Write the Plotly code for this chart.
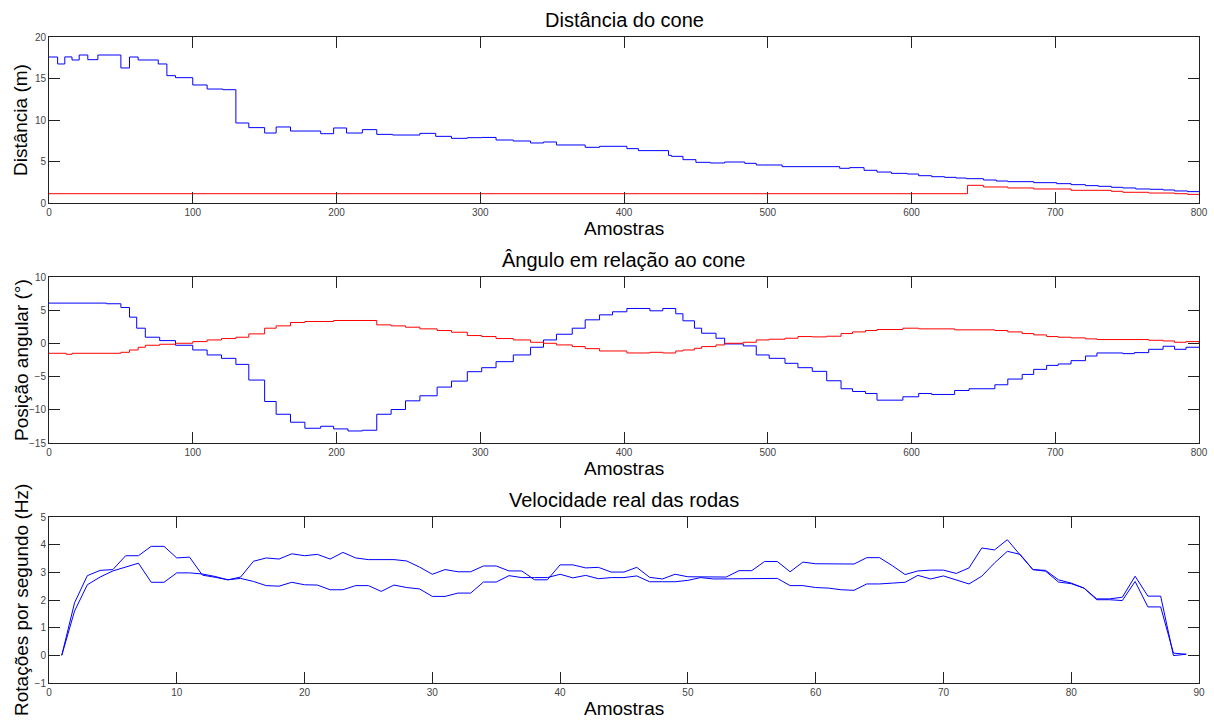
import plotly.graph_objects as go

# ---------------- Data ----------------
# Plot 1: Distância do cone (step series: start sample, level)
dist_blue_x = [0, 6, 11, 16, 21, 27, 34, 50, 56, 62, 76, 82, 88, 100, 110, 121, 130, 139, 150,
               158, 168, 189, 198, 207, 218, 228, 239, 258, 269, 280, 291, 301, 311, 323, 335,
               344, 353, 373, 383, 402, 410, 431, 433, 441, 450, 460, 470, 484, 492, 510, 550,
               557, 567, 576, 586, 597, 605, 614, 623, 631, 638, 650, 659, 667, 685, 701, 711,
               721, 730, 739, 747, 756, 766, 775, 783, 792, 800]
dist_blue_y = [17.59, 16.75, 17.6, 17.23, 17.83, 17.27, 17.83, 16.27, 17.59, 17.23, 16.75, 15.34,
               15.1, 14.22, 13.73, 13.65, 9.64, 9.08, 8.43, 9.16, 8.67, 8.35, 9.04, 8.43, 8.84,
               8.27, 8.19, 8.39, 8.03, 7.79, 7.87, 7.9, 7.59, 7.47, 7.23, 7.35, 6.99, 6.71, 6.83,
               6.55, 6.31, 5.74, 5.62, 5.22, 4.9, 4.82, 4.94, 4.78, 4.58, 4.38, 4.18, 4.26, 3.94,
               3.73, 3.57, 3.49, 3.29, 3.17, 3.09, 3.01, 2.93, 2.77, 2.65, 2.57, 2.45, 2.33, 2.21,
               2.09, 2.01, 1.89, 1.81, 1.69, 1.65, 1.57, 1.45, 1.37, 1.37]
dist_red_x = [0, 639, 650, 667, 685, 711, 739, 747, 765, 783, 792, 800]
dist_red_y = [1.12, 2.13, 1.93, 1.81, 1.69, 1.53, 1.41, 1.29, 1.2, 1.12, 1.04, 1.04]

# Plot 2: Ângulo em relação ao cone
ang_blue_x = [0, 40, 50, 56, 61, 67, 77, 88, 100, 110, 120, 130, 139, 150, 158, 168, 178, 189,
              198, 208, 218, 228, 238, 248, 258, 270, 280, 291, 301, 311, 323, 335, 344, 353,
              364, 373, 383, 392, 402, 418, 427, 436, 441, 449, 454, 464, 470, 483, 492, 501,
              512, 521, 531, 541, 551, 559, 568, 576, 594, 605, 614, 630, 640, 658, 667, 677,
              685, 694, 702, 711, 721, 729, 747, 755, 765, 775, 783, 791, 800]
ang_blue_y = [6.07, 5.97, 5.41, 3.95, 2.29, 0.93, 0.42, -0.28, -0.99, -1.74, -2.25, -3.16, -5.52,
              -8.75, -10.67, -11.87, -12.78, -12.48, -12.88, -13.19, -13.08, -10.67, -9.96, -8.65,
              -7.89, -6.58, -5.68, -4.26, -3.66, -2.75, -1.74, -0.58, 0.52, 1.38, 2.29, 3.55,
              4.3, 4.76, 5.26, 4.91, 5.26, 4.46, 3.4, 2.29, 1.53, 0.78, -0.08, -0.38, -1.74,
              -2.25, -3.0, -3.66, -4.21, -5.63, -6.83, -7.24, -7.54, -8.55, -8.04, -7.54, -7.69,
              -7.09, -6.83, -6.23, -5.37, -4.67, -3.91, -3.31, -3.1, -2.6, -1.9, -1.44, -1.54,
              -1.39, -0.89, -0.43, -0.89, -0.58, -0.58]
ang_red_x = [0, 12, 16, 50, 56, 62, 67, 77, 88, 100, 110, 120, 130, 139, 150, 158, 168, 178,
             198, 228, 238, 248, 258, 270, 280, 291, 301, 311, 323, 335, 344, 353, 364, 373,
             383, 402, 418, 427, 436, 441, 449, 454, 464, 470, 483, 492, 501, 512, 521, 531,
             541, 551, 559, 568, 576, 594, 605, 630, 658, 667, 677, 685, 694, 702, 711, 721,
             729, 765, 775, 783, 791, 800]
ang_red_y = [-1.49, -1.64, -1.49, -1.34, -0.99, -0.58, -0.28, -0.13, 0.02, 0.27, 0.52, 0.73,
             0.93, 1.43, 2.29, 2.64, 3.15, 3.3, 3.45, 2.79, 2.64, 2.44, 2.19, 1.94, 1.68, 1.18,
             1.03, 0.73, 0.52, 0.17, 0.02, -0.23, -0.48, -0.79, -1.14, -1.44, -1.34, -1.44,
             -1.14, -0.99, -0.74, -0.48, -0.23, 0.02, 0.17, 0.52, 0.63, 0.78, 1.03, 0.98, 1.08,
             1.48, 1.73, 1.94, 2.09, 2.29, 2.19, 2.04, 1.94, 1.73, 1.48, 1.28, 1.03, 0.93, 0.83,
             0.68, 0.58, 0.47, 0.37, 0.17, 0.27, 0.12, 0.12]

# Plot 3: Velocidade real das rodas (samples 1..89)
speed_x = list(range(1, 90))
speed_a = [0, 1.9, 2.88, 3.07, 3.1, 3.6, 3.6, 3.94, 3.94, 3.52, 3.55, 2.9, 2.82, 2.73, 2.83,
           3.4, 3.52, 3.48, 3.67, 3.6, 3.65, 3.48, 3.72, 3.52, 3.46, 3.46, 3.46, 3.41, 3.19,
           2.93, 3.1, 3.02, 3.02, 3.23, 3.23, 3.05, 3.05, 2.73, 2.73, 3.27, 3.27, 3.16, 3.18,
           3.01, 3.01, 3.18, 2.82, 2.76, 2.93, 2.84, 2.83, 2.83, 2.83, 3.06, 3.06, 3.39, 3.39,
           3.02, 3.37, 3.31, 3.3, 3.3, 3.3, 3.53, 3.53, 3.24, 2.92, 3.05, 3.08, 3.08, 2.96,
           3.16, 3.88, 3.81, 4.18, 3.63, 3.1, 3.07, 2.73, 2.61, 2.43, 2.04, 2.04, 2.1, 2.86,
           2.14, 2.14, -0.01, 0.04]
speed_b = [0, 1.6, 2.55, 2.83, 3.05, 3.2, 3.33, 2.64, 2.64, 2.98, 2.98, 2.94, 2.85, 2.73, 2.78,
           2.67, 2.52, 2.5, 2.64, 2.55, 2.54, 2.37, 2.37, 2.52, 2.52, 2.31, 2.54, 2.45, 2.4,
           2.13, 2.13, 2.25, 2.25, 2.65, 2.65, 2.88, 2.81, 2.81, 2.81, 2.93, 2.8, 2.89, 2.77,
           2.81, 2.81, 2.87, 2.66, 2.66, 2.66, 2.71, 2.81, 2.76, 2.76, 2.78, 2.78, 2.78, 2.78,
           2.52, 2.52, 2.45, 2.43, 2.37, 2.35, 2.58, 2.58, 2.61, 2.64, 2.89, 2.76, 2.87, 2.73,
           2.58, 2.86, 3.34, 3.76, 3.65, 3.1, 3.04, 2.65, 2.59, 2.43, 2.01, 2.01, 1.98, 2.67,
           1.75, 1.75, 0.08, 0.04]

titles = ["Distância do cone", "Ângulo em relação ao cone", "Velocidade real das rodas"]
ylabels = ["Distância (m)", "Posição angular (°)", "Rotações por segundo (Hz)"]
xlabel = "Amostras"

# ---------------- Figure ----------------
W, H = 1214, 720
FONT = "Liberation Sans, Arial, Helvetica, sans-serif"
BLUE, RED = "#0000FF", "#FF0000"

fig = go.Figure()
fig.add_trace(go.Scatter(x=dist_blue_x, y=dist_blue_y, mode="lines", line=dict(color=BLUE, width=1, shape="hv"), xaxis="x", yaxis="y"))
fig.add_trace(go.Scatter(x=dist_red_x, y=dist_red_y, mode="lines", line=dict(color=RED, width=1, shape="hv"), xaxis="x", yaxis="y"))
fig.add_trace(go.Scatter(x=ang_blue_x, y=ang_blue_y, mode="lines", line=dict(color=BLUE, width=1, shape="hv"), xaxis="x2", yaxis="y2"))
fig.add_trace(go.Scatter(x=ang_red_x, y=ang_red_y, mode="lines", line=dict(color=RED, width=1, shape="hv"), xaxis="x2", yaxis="y2"))
fig.add_trace(go.Scatter(x=speed_x, y=speed_a, mode="lines", line=dict(color=BLUE, width=1), xaxis="x3", yaxis="y3"))
fig.add_trace(go.Scatter(x=speed_x, y=speed_b, mode="lines", line=dict(color=BLUE, width=1), xaxis="x3", yaxis="y3"))

# pixel geometry of the three panels (top, bottom)
L, R = 49, 1199
panels = [(37, 203), (277, 443), (517, 683)]

def ydom(top, bot):
    return [1 - bot / H, 1 - top / H]

def px_x(px):
    return (px - L) / (R - L)

axis_common = dict(showgrid=False, zeroline=False, showline=True, linecolor="#222222", linewidth=1,
                   mirror="ticks", ticks="inside", ticklen=11, tickcolor="#222222", tickwidth=1,
                   automargin=False,
                   tickfont=dict(family=FONT, size=10, color="#444444"))

xranges = [(0, 800, 100), (0, 800, 100), (0, 90, 10)]
yranges = [(0, 20, 5), (-15, 10, 5), (-1, 5, 1)]

layout = dict(template="none", width=W, height=H,
              margin=dict(l=L, r=W - R, t=0, b=0, pad=0, autoexpand=False),
              paper_bgcolor="white", plot_bgcolor="white", showlegend=False,
              font=dict(family=FONT, color="#000000"))
annotations = []
for i, ((top, bot), (x0, x1, dx), (y0, y1, dy)) in enumerate(zip(panels, xranges, yranges)):
    sfx = "" if i == 0 else str(i + 1)
    layout["xaxis" + sfx] = dict(axis_common, domain=[0, 1], range=[x0, x1], dtick=dx, tick0=0,
                                 anchor="y" + sfx)
    layout["yaxis" + sfx] = dict(axis_common, domain=ydom(top, bot), range=[y0, y1], dtick=dy,
                                 tick0=0, anchor="x" + sfx)
    annotations.append(dict(text=titles[i], x=0.5, y=1 - (top - 17) / H, xref="paper",
                            yref="paper", xanchor="center", yanchor="middle", showarrow=False,
                            font=dict(family=FONT, size=20, color="#000000")))
    annotations.append(dict(text=xlabel, x=0.5, y=1 - (bot + 25) / H, xref="paper",
                            yref="paper", xanchor="center", yanchor="middle", showarrow=False,
                            font=dict(family=FONT, size=19, color="#000000")))
    annotations.append(dict(text=ylabels[i], x=px_x(21), y=1 - ((top + bot) / 2) / H, xref="paper",
                            yref="paper", xanchor="center", yanchor="middle", textangle=-90,
                            showarrow=False, font=dict(family=FONT, size=19, color="#000000")))

layout["annotations"] = annotations
fig.update_layout(**layout)
fig.write_html("out.html", config={"displayModeBar": False},
               post_script="document.body.style.margin='0';document.body.style.overflow='hidden';")
